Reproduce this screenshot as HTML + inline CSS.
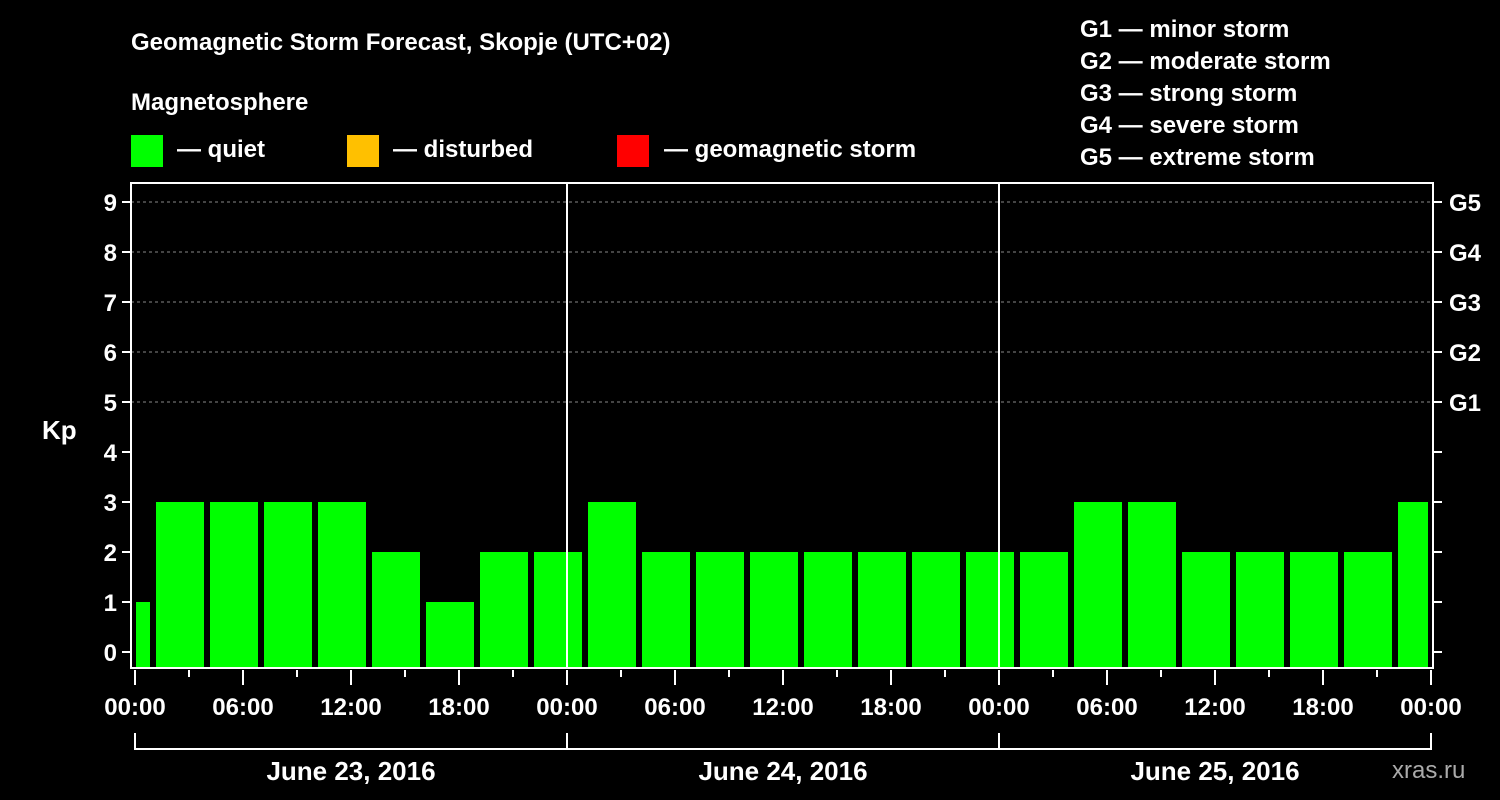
<!DOCTYPE html>
<html><head><meta charset="utf-8"><style>
body{margin:0;background:#000;width:1500px;height:800px;overflow:hidden}
svg{display:block}
text{font-family:"Liberation Sans",sans-serif;font-weight:bold;fill:#fff}
</style></head><body>
<svg id="c" width="1500" height="800">
<text x="131" y="50" font-size="24">Geomagnetic Storm Forecast, Skopje (UTC+02)</text>
<text x="131" y="110" font-size="24">Magnetosphere</text>
<g><rect x="131" y="135" width="32" height="32" fill="#00ff00"/><text x="177" y="157" font-size="24">— quiet</text></g>
<g><rect x="347" y="135" width="32" height="32" fill="#ffc000"/><text x="393" y="157" font-size="24">— disturbed</text></g>
<g><rect x="617" y="135" width="32" height="32" fill="#ff0000"/><text x="664" y="157" font-size="24">— geomagnetic storm</text></g>
<g font-size="24">
<text x="1080" y="37">G1 — minor storm</text><text x="1080" y="69">G2 — moderate storm</text><text x="1080" y="101">G3 — strong storm</text><text x="1080" y="133">G4 — severe storm</text><text x="1080" y="165">G5 — extreme storm</text></g>
<text x="42" y="439" font-size="26">Kp</text>
<text x="1392" y="778" font-size="24" fill="#aaa" style="fill:#aaa;font-weight:normal">xras.ru</text>
<g id="g"></g>
</svg>
<script>
const kpValues=[1,3,3,3,3,2,1,2,2,3,2,2,2,2,2,2,2,2,3,3,2,2,2,2,3];
const yTicks=[0,1,2,3,4,5,6,7,8,9];
const gLabels=["G1","G2","G3","G4","G5"];
const dayLabels=["June 23, 2016","June 24, 2016","June 25, 2016"];
const hourLabels=["00:00","06:00","12:00","18:00"];
const firstBarCenterHour=-0.5; // local center of first 3h bar (UTC+02)
const L=131,R=1433,T=183,B=668,x0=135,pxH=18;
const X=h=>x0+h*pxH, Y=v=>652-50*v;
const g=document.getElementById('g'),NS='http://www.w3.org/2000/svg';
function mk(t,a,p){const e=document.createElementNS(NS,t);for(const k in a)e.setAttribute(k,a[k]);(p||g).appendChild(e);return e;}
// grid
yTicks.forEach(v=>{if(v>=5){const l=mk('line',{x1:L,x2:R,y1:Y(v),y2:Y(v),stroke:'#888','stroke-dasharray':'3,3','stroke-width':1});

}});
// bars
kpValues.forEach((v,i)=>{const c=X(firstBarCenterHour+3*i);let a=Math.max(c-24,136),b=Math.min(c+24,1428);
const col=v>=5?'#ff0000':(v>=4?'#ffc000':'#00ff00');
const r=mk('rect',{x:a,y:Y(v),width:b-a,height:B-Y(v),fill:col});

});
// day separators
for(let d=1;d<dayLabels.length;d++){const l=mk('line',{x1:X(24*d),x2:X(24*d),y1:T,y2:B,stroke:'#fff','stroke-width':2});

}
// frame
const f=mk('rect',{x:L,y:T,width:R-L,height:B-T,fill:'none',stroke:'#fff','stroke-width':2});


// y ticks & labels
yTicks.forEach(v=>{mk('line',{x1:L-9,x2:L,y1:Y(v),y2:Y(v),stroke:'#fff','stroke-width':2});mk('line',{x1:R,x2:R+9,y1:Y(v),y2:Y(v),stroke:'#fff','stroke-width':2});
const t=mk('text',{x:L-14,y:Y(v)+9,'font-size':24,'text-anchor':'end'});t.textContent=v;

});
gLabels.forEach((s,i)=>{const t=mk('text',{x:1449,y:Y(5+i)+9,'font-size':24});t.textContent=s;

});
// x ticks
for(let h=0;h<=72;h+=3){const maj=h%6==0;mk('line',{x1:X(h),x2:X(h),y1:B+2,y2:B+(maj?17:9),stroke:'#fff','stroke-width':2});
if(maj){const t=mk('text',{x:X(h),y:715,'font-size':24,'text-anchor':'middle'});t.textContent=h==72?hourLabels[0]:hourLabels[(h/6)%4];

}}
// day brackets
mk('path',{d:`M${X(0)},733V749H${X(72)}V733`,stroke:'#fff','stroke-width':2,fill:'none'});
for(let d=1;d<dayLabels.length;d++)mk('line',{x1:X(24*d),x2:X(24*d),y1:733,y2:749,stroke:'#fff','stroke-width':2});
dayLabels.forEach((s,d)=>{const t=mk('text',{x:X(24*d+12),y:780,'font-size':26,'text-anchor':'middle'});t.textContent=s;

});
</script>
</body></html>
